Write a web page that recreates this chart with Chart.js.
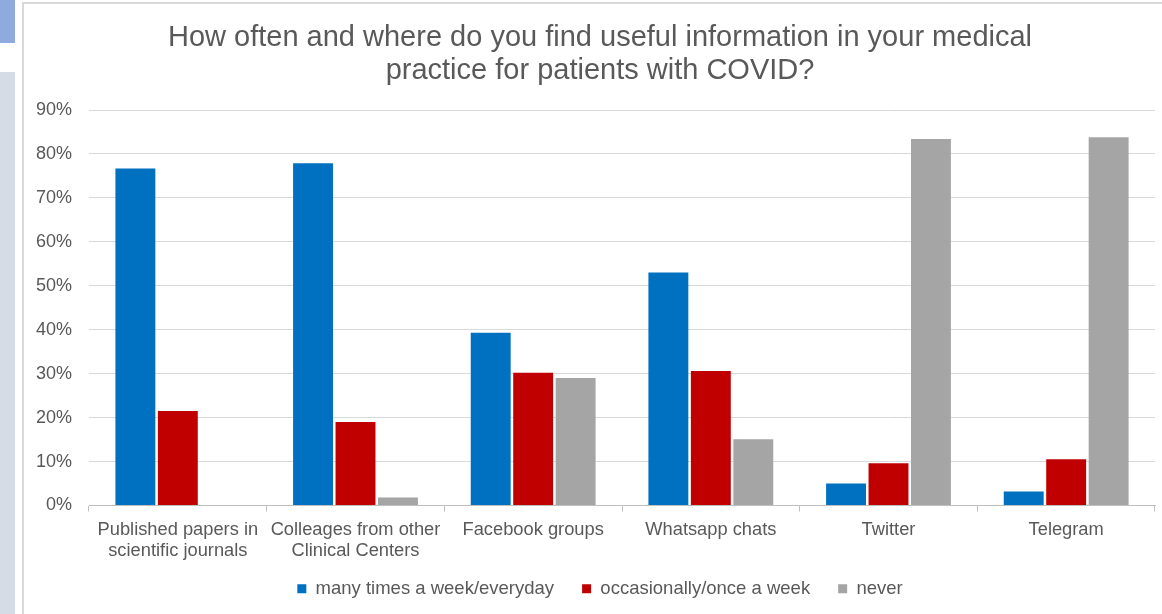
<!DOCTYPE html>
<html>
<head>
<meta charset="utf-8">
<script src="https://cdn.jsdelivr.net/npm/chart.js@4.4.1/dist/chart.umd.min.js"></script>
<style>
  html, body { margin: 0; padding: 0; background: #fff; width: 1162px; height: 614px; overflow: hidden; }
  #stripTop { position: absolute; left: 0; top: 0; width: 15px; height: 43px; background: #8FAADC; }
  #stripSide { position: absolute; left: 0; top: 72px; width: 15px; height: 542px; background: #D6DCE5; }
  #frame { position: absolute; left: 22px; top: 2px; width: 1200px; height: 700px; border: 2px solid #d9d9d9; box-sizing: border-box; }
  #wrap { position: absolute; left: 24px; top: 4px; width: 1152px; height: 610px; }
</style>
</head>
<body>
<div id="stripTop"></div>
<div id="stripSide"></div>
<div id="frame"></div>
<div id="wrap"><canvas id="c" width="1152" height="610"></canvas></div>
<script>
const categories = [
  ["Published papers in", "scientific journals"],
  ["Colleages from other", "Clinical Centers"],
  "Facebook groups",
  "Whatsapp chats",
  "Twitter",
  "Telegram"
];
const seriesNames = ["many times a week/everyday", "occasionally/once a week", "never"];
const manyTimes = [76.7, 77.9, 39.3, 53.0, 5.0, 3.2];
const occasionally = [21.5, 19.0, 30.2, 30.6, 9.6, 10.5];
const never = [0, 1.8, 29.0, 15.1, 83.4, 83.8];
const yTicks = [0, 10, 20, 30, 40, 50, 60, 70, 80, 90];
const titleLines = ["How often and where do you find useful information in your medical", "practice for patients with COVID?"];

const colors = ["#0070C0", "#C00000", "#A5A5A5"];
const font = "'Liberation Sans', Arial, sans-serif";
const textColor = "#595959";

// let tick labels extend outside the compact axis boxes (no clipping)
const extendLabelAreas = {
  id: "extendLabelAreas",
  afterLayout(chart) {
    const x = chart.scales.x;
    x.bottom = x.top + 70;
    chart.scales.y.left = 0;
  }
};

new Chart(document.getElementById("c"), {
  type: "bar",
  data: {
    labels: categories,
    datasets: [manyTimes, occasionally, never].map((d, i) => ({
      label: seriesNames[i],
      data: d,
      backgroundColor: colors[i],
      borderWidth: 0,
      categoryPercentage: 0.717,
      barPercentage: 0.94
    }))
  },
  plugins: [extendLabelAreas],
  options: {
    responsive: false,
    animation: false,
    layout: { padding: { left: 21, right: 21, top: 0, bottom: 6 } },
    plugins: {
      title: {
        display: true,
        text: titleLines,
        color: textColor,
        font: { family: font, size: 29, weight: "normal", lineHeight: 1.138 },
        padding: { top: 17, bottom: 23 }
      },
      legend: {
        position: "bottom",
        labels: {
          color: textColor,
          font: { family: font, size: 18.5 },
          boxWidth: 9,
          boxHeight: 9,
          padding: 28
        }
      },
      tooltip: { enabled: false }
    },
    scales: {
      x: {
        afterFit: (s) => { s.height = 46; },
        grid: { display: true, drawOnChartArea: false, drawTicks: true, tickLength: 6, color: "#bfbfbf", offset: true },
        border: { display: true, color: "#bfbfbf", width: 1 },
        ticks: { color: textColor, font: { family: font, size: 18.3, lineHeight: 1.2 }, padding: 7, maxRotation: 0, autoSkip: false }
      },
      y: {
        min: 0,
        max: 90,
        afterFit: (s) => { s.width = 44; },
        afterBuildTicks: (s) => { s.ticks = yTicks.map(v => ({ value: v })); },
        grid: { color: "#d9d9d9", drawTicks: false, lineWidth: 1 },
        border: { display: false },
        ticks: { color: textColor, font: { family: font, size: 18 }, padding: 17, callback: (v) => v + "%" }
      }
    }
  }
});
</script>
</body>
</html>
